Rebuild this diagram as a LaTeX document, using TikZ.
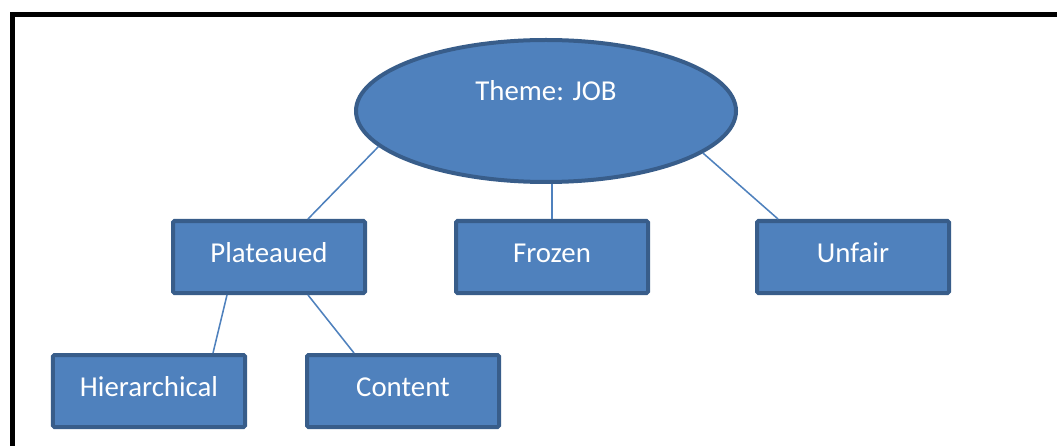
\documentclass[tikz,border=0pt]{standalone}
\usepackage{fontspec}
\setmainfont{Carlito}
\usetikzlibrary{positioning}
\usetikzlibrary{shapes.geometric}

\definecolor{officeblue}{HTML}{4F81BD}
\definecolor{officeedge}{HTML}{385D8A}

\begin{document}
\begin{tikzpicture}
		[topic/.style={draw=officeedge, fill=officeblue, line width=0.1cm, text=white, font=\fontsize{20.5}{24}\selectfont},
		 ovalbox/.style={topic, ellipse, inner sep=0pt, minimum width=9.5cm, minimum height=3.55cm},
		 subbox/.style={topic, rectangle, rounded corners=1pt, text height=0.55cm, text depth=0.3cm, minimum width=4.8cm, minimum height=1.8cm, node distance=0.875cm},
		 link/.style={draw=officeblue, line width=1.1pt}]
		\useasboundingbox (0,0) rectangle (26.425,-11.15);
		\draw[line width=0.125cm, line join=miter] (0.3125,-11.5) -- (0.3125,-0.3625) -- (26.8,-0.3625);

		\node[ovalbox] (theme) at (13.65,-2.775) {};
		\node[text=white, font=\fontsize{20.5}{24}\selectfont] (themetext) at ([yshift=0.5cm]theme.center) {Theme: JOB};
		\node[subbox, below=of theme, xshift=0.15cm] (frozen) {Frozen};
		\node[subbox, left=2.175cm of frozen] (plateaued) {Plateaued};
		\node[subbox, right=2.625cm of frozen] (unfair) {Unfair};
		\node[subbox, below=1.45cm of plateaued, xshift=-3cm] (hierarchical) {Hierarchical};
		\node[subbox, right=1.45cm of hierarchical] (content) {Content};

		\draw[link] (theme.192) -- ([xshift=-1.475cm]plateaued.north east);
		\draw[link] (theme.south -| frozen.north) -- (frozen.north);
		\draw[link] (theme.345) -- ([xshift=0.575cm]unfair.north west);
		\draw[link] ([xshift=1.4cm]plateaued.south west) -- ([xshift=-0.85cm]hierarchical.north east);
		\draw[link] ([xshift=-1.475cm]plateaued.south east) -- ([xshift=1.225cm]content.north west);
	\end{tikzpicture}
\end{document}
